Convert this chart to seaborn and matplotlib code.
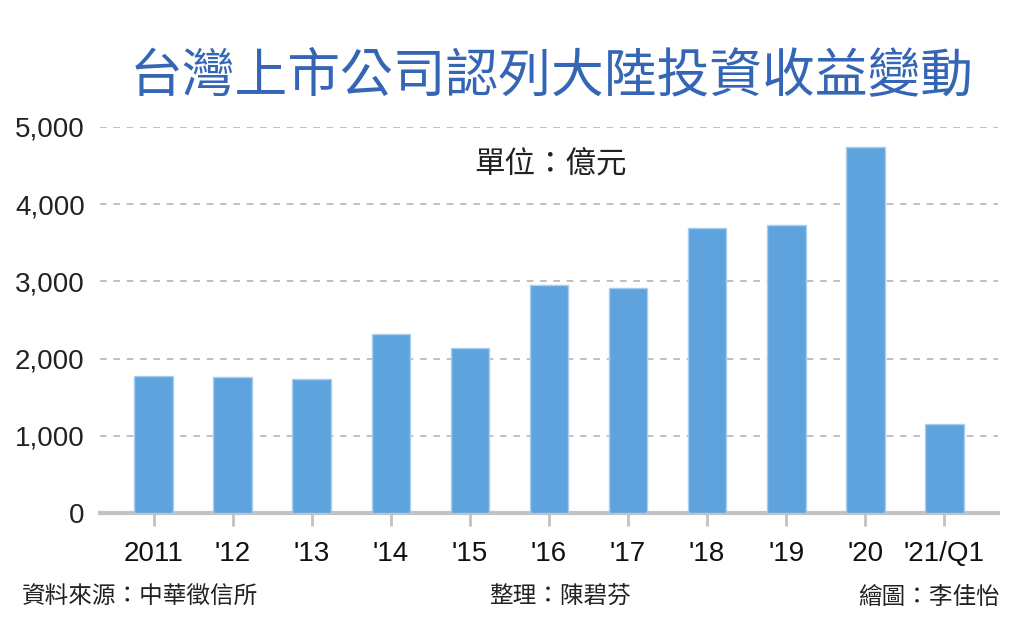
import pandas as pd
import matplotlib
matplotlib.use('Agg')
import matplotlib.pyplot as plt
import seaborn as sns

# data (unit: 億元)
years = ['2011', "'12", "'13", "'14", "'15", "'16", "'17", "'18", "'19", "'20", "'21/Q1"]
income = [1780, 1760, 1742, 2317, 2136, 2957, 2914, 3696, 3735, 4738, 1154]
yticks = [0, 1000, 2000, 3000, 4000, 5000]

df = pd.DataFrame({'year': years, 'income': income})

sns.set_theme(style='white')
plt.rcParams['font.family'] = ['Noto Sans CJK TC', 'DejaVu Sans']

fig = plt.figure(figsize=(10.24, 6.34), dpi=100)
ax = fig.add_axes([100 / 1024, 1 - 513 / 634, 898 / 1024, 386 / 634])

sns.barplot(x='year', y='income', data=df, color='#5fa3de', width=0.49,
            edgecolor='#a9cdef', linewidth=1, saturation=1, ax=ax, zorder=3)

ax.set_ylim(0, 5000)
ax.set_xlim(-0.68, 10.68)
ax.set_yticks(yticks)
ax.set_yticklabels([f'{v:,}' for v in yticks], fontsize=20, color='#222222',
                   family=['Liberation Sans', 'DejaVu Sans'])
ax.set_xticks(range(len(years)))
ax.set_xticklabels(years, fontsize=20, color='#111111',
                   family=['Liberation Sans', 'DejaVu Sans'])
ax.set_xlabel('')
ax.set_ylabel('')

for v in yticks[1:]:
    ax.axhline(v, color='#b5b5b5', linestyle=(0, (4, 4)), linewidth=1.2, zorder=1)

for s in ['top', 'right', 'left']:
    ax.spines[s].set_visible(False)
ax.spines['bottom'].set_color('#c2c2c2')
ax.spines['bottom'].set_linewidth(3)
ax.tick_params(axis='x', bottom=True, length=9, width=2, color='#c2c2c2', pad=11)
ax.tick_params(axis='y', left=False, pad=5)

fig.text(550 / 1024, 1 - 165 / 634, '單位：億元', fontsize=22, ha='center', va='center', color='#222222')
fig.text(552 / 1024, 1 - 76 / 634, '台灣上市公司認列大陸投資收益變動', fontsize=38,
         ha='center', va='center', color='#3566b5')
fig.text(22 / 1024, 1 - 597 / 634, '資料來源：中華徵信所', fontsize=17, ha='left', va='center', color='#222222')
fig.text(560 / 1024, 1 - 597 / 634, '整理：陳碧芬', fontsize=17, ha='center', va='center', color='#222222')
fig.text(1000 / 1024, 1 - 597 / 634, '繪圖：李佳怡', fontsize=17, ha='right', va='center', color='#222222')

fig.savefig('out.png', dpi=100)
